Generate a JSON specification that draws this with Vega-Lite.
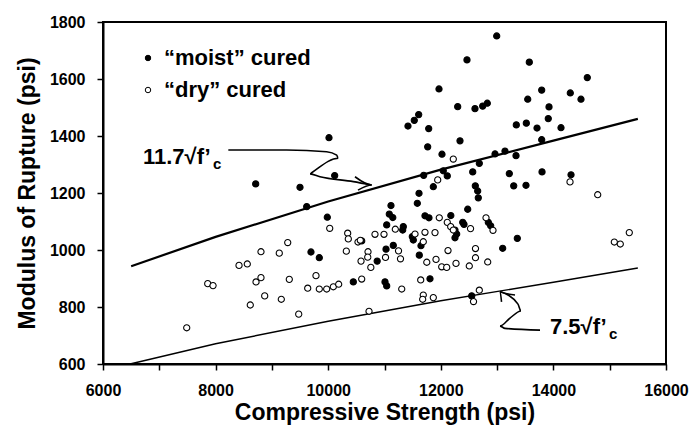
{
  "$schema": "https://vega.github.io/schema/vega-lite/v6.json",
  "width": 563,
  "height": 342,
  "autosize": {"type": "none"},
  "padding": {"left": 103, "top": 22, "right": 26, "bottom": 67},
  "background": "white",
  "config": {
    "view": {"stroke": "black", "strokeWidth": 2},
    "font": "Liberation Sans",
    "axis": {
      "domainColor": "black", "domainWidth": 2,
      "tickColor": "black", "tickWidth": 1.5, "tickSize": 6,
      "labelFont": "Liberation Sans", "labelFontSize": 16, "labelFontWeight": "bold", "labelColor": "black",
      "titleFont": "Liberation Sans", "titleFontSize": 23, "titleFontWeight": "bold", "titleColor": "black",
      "grid": false, "labelOverlap": false, "labelFlush": false
    }
  },
  "datasets": {
    "pts": [
      {"fc": 12993, "mor": 1751, "cure": "“moist” cured"},
      {"fc": 12465, "mor": 1667, "cure": "“moist” cured"},
      {"fc": 13572, "mor": 1659, "cure": "“moist” cured"},
      {"fc": 14602, "mor": 1605, "cure": "“moist” cured"},
      {"fc": 11968, "mor": 1565, "cure": "“moist” cured"},
      {"fc": 13792, "mor": 1561, "cure": "“moist” cured"},
      {"fc": 14300, "mor": 1551, "cure": "“moist” cured"},
      {"fc": 13544, "mor": 1529, "cure": "“moist” cured"},
      {"fc": 14490, "mor": 1529, "cure": "“moist” cured"},
      {"fc": 12300, "mor": 1503, "cure": "“moist” cured"},
      {"fc": 12607, "mor": 1496, "cure": "“moist” cured"},
      {"fc": 12744, "mor": 1505, "cure": "“moist” cured"},
      {"fc": 12826, "mor": 1515, "cure": "“moist” cured"},
      {"fc": 13922, "mor": 1502, "cure": "“moist” cured"},
      {"fc": 11607, "mor": 1475, "cure": "“moist” cured"},
      {"fc": 11529, "mor": 1455, "cure": "“moist” cured"},
      {"fc": 11417, "mor": 1435, "cure": "“moist” cured"},
      {"fc": 13909, "mor": 1461, "cure": "“moist” cured"},
      {"fc": 11785, "mor": 1426, "cure": "“moist” cured"},
      {"fc": 13341, "mor": 1439, "cure": "“moist” cured"},
      {"fc": 13519, "mor": 1445, "cure": "“moist” cured"},
      {"fc": 13709, "mor": 1428, "cure": "“moist” cured"},
      {"fc": 14135, "mor": 1429, "cure": "“moist” cured"},
      {"fc": 12341, "mor": 1383, "cure": "“moist” cured"},
      {"fc": 13792, "mor": 1387, "cure": "“moist” cured"},
      {"fc": 11767, "mor": 1362, "cure": "“moist” cured"},
      {"fc": 12021, "mor": 1336, "cure": "“moist” cured"},
      {"fc": 12963, "mor": 1337, "cure": "“moist” cured"},
      {"fc": 13140, "mor": 1347, "cure": "“moist” cured"},
      {"fc": 13336, "mor": 1331, "cure": "“moist” cured"},
      {"fc": 12684, "mor": 1304, "cure": "“moist” cured"},
      {"fc": 12044, "mor": 1278, "cure": "“moist” cured"},
      {"fc": 11696, "mor": 1262, "cure": "“moist” cured"},
      {"fc": 12115, "mor": 1260, "cure": "“moist” cured"},
      {"fc": 12567, "mor": 1274, "cure": "“moist” cured"},
      {"fc": 13217, "mor": 1268, "cure": "“moist” cured"},
      {"fc": 13798, "mor": 1274, "cure": "“moist” cured"},
      {"fc": 14313, "mor": 1264, "cure": "“moist” cured"},
      {"fc": 11867, "mor": 1222, "cure": "“moist” cured"},
      {"fc": 12613, "mor": 1225, "cure": "“moist” cured"},
      {"fc": 13295, "mor": 1225, "cure": "“moist” cured"},
      {"fc": 13513, "mor": 1227, "cure": "“moist” cured"},
      {"fc": 10014, "mor": 1394, "cure": "“moist” cured"},
      {"fc": 10115, "mor": 1261, "cure": "“moist” cured"},
      {"fc": 8712, "mor": 1232, "cure": "“moist” cured"},
      {"fc": 9499, "mor": 1220, "cure": "“moist” cured"},
      {"fc": 9618, "mor": 1152, "cure": "“moist” cured"},
      {"fc": 11115, "mor": 1156, "cure": "“moist” cured"},
      {"fc": 11085, "mor": 1126, "cure": "“moist” cured"},
      {"fc": 9984, "mor": 1115, "cure": "“moist” cured"},
      {"fc": 11147, "mor": 1114, "cure": "“moist” cured"},
      {"fc": 11039, "mor": 1088, "cure": "“moist” cured"},
      {"fc": 9694, "mor": 993, "cure": "“moist” cured"},
      {"fc": 9842, "mor": 973, "cure": "“moist” cured"},
      {"fc": 10870, "mor": 961, "cure": "“moist” cured"},
      {"fc": 11156, "mor": 1016, "cure": "“moist” cured"},
      {"fc": 10446, "mor": 888, "cure": "“moist” cured"},
      {"fc": 11009, "mor": 888, "cure": "“moist” cured"},
      {"fc": 11039, "mor": 874, "cure": "“moist” cured"},
      {"fc": 11613, "mor": 1199, "cure": "“moist” cured"},
      {"fc": 11583, "mor": 1164, "cure": "“moist” cured"},
      {"fc": 11719, "mor": 1120, "cure": "“moist” cured"},
      {"fc": 11790, "mor": 1113, "cure": "“moist” cured"},
      {"fc": 12178, "mor": 1121, "cure": "“moist” cured"},
      {"fc": 11334, "mor": 1082, "cure": "“moist” cured"},
      {"fc": 11323, "mor": 1070, "cure": "“moist” cured"},
      {"fc": 11512, "mor": 1035, "cure": "“moist” cured"},
      {"fc": 11494, "mor": 1047, "cure": "“moist” cured"},
      {"fc": 12282, "mor": 1056, "cure": "“moist” cured"},
      {"fc": 10595, "mor": 1032, "cure": "“moist” cured"},
      {"fc": 11027, "mor": 1003, "cure": "“moist” cured"},
      {"fc": 11648, "mor": 1015, "cure": "“moist” cured"},
      {"fc": 11618, "mor": 982, "cure": "“moist” cured"},
      {"fc": 11808, "mor": 899, "cure": "“moist” cured"},
      {"fc": 12655, "mor": 1207, "cure": "“moist” cured"},
      {"fc": 12666, "mor": 1183, "cure": "“moist” cured"},
      {"fc": 12478, "mor": 1143, "cure": "“moist” cured"},
      {"fc": 12389, "mor": 1097, "cure": "“moist” cured"},
      {"fc": 12412, "mor": 1090, "cure": "“moist” cured"},
      {"fc": 12844, "mor": 1097, "cure": "“moist” cured"},
      {"fc": 12886, "mor": 1085, "cure": "“moist” cured"},
      {"fc": 12252, "mor": 1070, "cure": "“moist” cured"},
      {"fc": 12252, "mor": 1043, "cure": "“moist” cured"},
      {"fc": 13359, "mor": 1041, "cure": "“moist” cured"},
      {"fc": 13099, "mor": 1006, "cure": "“moist” cured"},
      {"fc": 12549, "mor": 839, "cure": "“moist” cured"},
      {"fc": 12222, "mor": 1319, "cure": "“dry” cured"},
      {"fc": 11945, "mor": 1246, "cure": "“dry” cured"},
      {"fc": 14295, "mor": 1239, "cure": "“dry” cured"},
      {"fc": 10027, "mor": 1076, "cure": "“dry” cured"},
      {"fc": 10346, "mor": 1059, "cure": "“dry” cured"},
      {"fc": 10357, "mor": 1039, "cure": "“dry” cured"},
      {"fc": 10529, "mor": 1028, "cure": "“dry” cured"},
      {"fc": 10570, "mor": 1034, "cure": "“dry” cured"},
      {"fc": 10831, "mor": 1055, "cure": "“dry” cured"},
      {"fc": 10991, "mor": 1055, "cure": "“dry” cured"},
      {"fc": 11192, "mor": 1073, "cure": "“dry” cured"},
      {"fc": 9281, "mor": 1026, "cure": "“dry” cured"},
      {"fc": 8806, "mor": 994, "cure": "“dry” cured"},
      {"fc": 9131, "mor": 989, "cure": "“dry” cured"},
      {"fc": 10322, "mor": 996, "cure": "“dry” cured"},
      {"fc": 10707, "mor": 994, "cure": "“dry” cured"},
      {"fc": 11249, "mor": 997, "cure": "“dry” cured"},
      {"fc": 8416, "mor": 946, "cure": "“dry” cured"},
      {"fc": 8563, "mor": 951, "cure": "“dry” cured"},
      {"fc": 10583, "mor": 961, "cure": "“dry” cured"},
      {"fc": 10702, "mor": 975, "cure": "“dry” cured"},
      {"fc": 11018, "mor": 974, "cure": "“dry” cured"},
      {"fc": 10757, "mor": 939, "cure": "“dry” cured"},
      {"fc": 7860, "mor": 882, "cure": "“dry” cured"},
      {"fc": 7954, "mor": 875, "cure": "“dry” cured"},
      {"fc": 8718, "mor": 888, "cure": "“dry” cured"},
      {"fc": 8806, "mor": 903, "cure": "“dry” cured"},
      {"fc": 9309, "mor": 897, "cure": "“dry” cured"},
      {"fc": 9783, "mor": 910, "cure": "“dry” cured"},
      {"fc": 10595, "mor": 898, "cure": "“dry” cured"},
      {"fc": 9636, "mor": 866, "cure": "“dry” cured"},
      {"fc": 9842, "mor": 863, "cure": "“dry” cured"},
      {"fc": 9973, "mor": 863, "cure": "“dry” cured"},
      {"fc": 10091, "mor": 871, "cure": "“dry” cured"},
      {"fc": 10186, "mor": 880, "cure": "“dry” cured"},
      {"fc": 8872, "mor": 839, "cure": "“dry” cured"},
      {"fc": 9167, "mor": 827, "cure": "“dry” cured"},
      {"fc": 8616, "mor": 807, "cure": "“dry” cured"},
      {"fc": 9476, "mor": 775, "cure": "“dry” cured"},
      {"fc": 10725, "mor": 785, "cure": "“dry” cured"},
      {"fc": 7487, "mor": 727, "cure": "“dry” cured"},
      {"fc": 14787, "mor": 1194, "cure": "“dry” cured"},
      {"fc": 15348, "mor": 1061, "cure": "“dry” cured"},
      {"fc": 15082, "mor": 1028, "cure": "“dry” cured"},
      {"fc": 15188, "mor": 1021, "cure": "“dry” cured"},
      {"fc": 11973, "mor": 1113, "cure": "“dry” cured"},
      {"fc": 12803, "mor": 1113, "cure": "“dry” cured"},
      {"fc": 12927, "mor": 1069, "cure": "“dry” cured"},
      {"fc": 12528, "mor": 1075, "cure": "“dry” cured"},
      {"fc": 11542, "mor": 1056, "cure": "“dry” cured"},
      {"fc": 11719, "mor": 1062, "cure": "“dry” cured"},
      {"fc": 11897, "mor": 1061, "cure": "“dry” cured"},
      {"fc": 11689, "mor": 1029, "cure": "“dry” cured"},
      {"fc": 12128, "mor": 998, "cure": "“dry” cured"},
      {"fc": 12616, "mor": 1005, "cure": "“dry” cured"},
      {"fc": 11284, "mor": 969, "cure": "“dry” cured"},
      {"fc": 11751, "mor": 957, "cure": "“dry” cured"},
      {"fc": 11915, "mor": 967, "cure": "“dry” cured"},
      {"fc": 12016, "mor": 941, "cure": "“dry” cured"},
      {"fc": 12105, "mor": 939, "cure": "“dry” cured"},
      {"fc": 12270, "mor": 953, "cure": "“dry” cured"},
      {"fc": 12506, "mor": 944, "cure": "“dry” cured"},
      {"fc": 12616, "mor": 973, "cure": "“dry” cured"},
      {"fc": 12833, "mor": 958, "cure": "“dry” cured"},
      {"fc": 11643, "mor": 895, "cure": "“dry” cured"},
      {"fc": 11306, "mor": 863, "cure": "“dry” cured"},
      {"fc": 11689, "mor": 842, "cure": "“dry” cured"},
      {"fc": 11678, "mor": 827, "cure": "“dry” cured"},
      {"fc": 11867, "mor": 833, "cure": "“dry” cured"},
      {"fc": 12684, "mor": 859, "cure": "“dry” cured"},
      {"fc": 12581, "mor": 819, "cure": "“dry” cured"},
      {"fc": 12115, "mor": 1097, "cure": "“dry” cured"},
      {"fc": 12176, "mor": 1082, "cure": "“dry” cured"},
      {"fc": 12222, "mor": 1070, "cure": "“dry” cured"}
    ],
    "fits": [
      {"fc": 6500, "mor": 943, "eq": "upper"},
      {"fc": 8000, "mor": 1046, "eq": "upper"},
      {"fc": 10000, "mor": 1170, "eq": "upper"},
      {"fc": 12000, "mor": 1282, "eq": "upper"},
      {"fc": 14000, "mor": 1384, "eq": "upper"},
      {"fc": 15500, "mor": 1460, "eq": "upper"},
      {"fc": 6480, "mor": 600, "eq": "lower"},
      {"fc": 8000, "mor": 671, "eq": "lower"},
      {"fc": 10000, "mor": 750, "eq": "lower"},
      {"fc": 12000, "mor": 822, "eq": "lower"},
      {"fc": 14000, "mor": 887, "eq": "lower"},
      {"fc": 15500, "mor": 937, "eq": "lower"}
    ],
    "arrows": [
      {"fc": 8226, "mor": 1351, "seg": "a1", "o": 1},
      {"fc": 9263, "mor": 1351, "seg": "a1", "o": 2},
      {"fc": 9973, "mor": 1345, "seg": "a1", "o": 3},
      {"fc": 10151, "mor": 1333, "seg": "a1", "o": 4},
      {"fc": 10179, "mor": 1322, "seg": "a1", "o": 5},
      {"fc": 9707, "mor": 1271, "seg": "a1", "o": 6},
      {"fc": 9677, "mor": 1267, "seg": "a1", "o": 7},
      {"fc": 9854, "mor": 1257, "seg": "a1", "o": 8},
      {"fc": 10446, "mor": 1240, "seg": "a1", "o": 9},
      {"fc": 10773, "mor": 1228, "seg": "a1", "o": 10},
      {"fc": 10476, "mor": 1257, "seg": "h1", "o": 1},
      {"fc": 10773, "mor": 1228, "seg": "h1", "o": 2},
      {"fc": 10529, "mor": 1210, "seg": "h1", "o": 3},
      {"fc": 13762, "mor": 719, "seg": "a2", "o": 1},
      {"fc": 13140, "mor": 725, "seg": "a2", "o": 2},
      {"fc": 13051, "mor": 733, "seg": "a2", "o": 3},
      {"fc": 13229, "mor": 761, "seg": "a2", "o": 4},
      {"fc": 13424, "mor": 786, "seg": "a2", "o": 5},
      {"fc": 13371, "mor": 810, "seg": "a2", "o": 6},
      {"fc": 13051, "mor": 854, "seg": "a2", "o": 7},
      {"fc": 13318, "mor": 842, "seg": "h2", "o": 1},
      {"fc": 13051, "mor": 854, "seg": "h2", "o": 2},
      {"fc": 13079, "mor": 818, "seg": "h2", "o": 3}
    ],
    "notes": [
      {"fc": 6710, "mor": 1302, "t": "11.7√f’", "part": "main"},
      {"fc": 7954, "mor": 1284, "t": "c", "part": "sub"},
      {"fc": 13940, "mor": 705, "t": "7.5√f’", "part": "main"},
      {"fc": 14988, "mor": 688, "t": "c", "part": "sub"}
    ]
  },
  "layer": [
    {
      "data": {"name": "fits"},
      "transform": [{"filter": "datum.eq === 'upper'"}],
      "mark": {"type": "line", "color": "black", "strokeWidth": 2.2},
      "encoding": {
        "x": {"field": "fc", "type": "quantitative", "scale": {"domain": [6000, 16000], "nice": false, "zero": false},
          "axis": {"title": "Compressive Strength (psi)", "values": [6000, 7000, 8000, 9000, 10000, 11000, 12000, 13000, 14000, 15000, 16000], "format": "d", "labelExpr": "datum.value % 2000 === 0 ? datum.label : ''", "labelPadding": 12, "titlePadding": 3}},
        "y": {"field": "mor", "type": "quantitative", "scale": {"domain": [600, 1800], "nice": false, "zero": false},
          "axis": {"title": "Modulus of Rupture (psi)", "values": [600, 700, 800, 900, 1000, 1100, 1200, 1300, 1400, 1500, 1600, 1700, 1800], "format": "d", "labelExpr": "datum.value % 200 === 0 ? datum.label : ''", "labelPadding": 12, "titlePadding": 10}}
      }
    },
    {
      "data": {"name": "fits"},
      "transform": [{"filter": "datum.eq === 'lower'"}],
      "mark": {"type": "line", "color": "black", "strokeWidth": 1.4},
      "encoding": {
        "x": {"field": "fc", "type": "quantitative"},
        "y": {"field": "mor", "type": "quantitative"}
      }
    },
    {
      "data": {"name": "arrows"},
      "mark": {"type": "line", "color": "black", "strokeWidth": 1.6, "interpolate": "monotone"},
      "encoding": {
        "x": {"field": "fc", "type": "quantitative"},
        "y": {"field": "mor", "type": "quantitative"},
        "detail": {"field": "seg"},
        "order": {"field": "o", "type": "quantitative"}
      }
    },
    {
      "data": {"name": "pts"},
      "mark": {"type": "point", "shape": "circle", "size": 38, "stroke": "black", "strokeWidth": 1.1, "opacity": 1, "filled": false},
      "encoding": {
        "x": {"field": "fc", "type": "quantitative"},
        "y": {"field": "mor", "type": "quantitative"},
        "fill": {"field": "cure", "type": "nominal",
          "scale": {"domain": ["“moist” cured", "“dry” cured"], "range": ["black", "white"]},
          "legend": {"orient": "none", "legendX": 34, "legendY": 25, "title": null, "padding": 0,
            "labelFont": "Liberation Sans", "labelFontSize": 22, "labelFontWeight": "bold", "labelColor": "black",
            "symbolType": "circle", "symbolSize": 30, "symbolStrokeColor": "black", "symbolStrokeWidth": 1,
            "rowPadding": 10, "labelOffset": 5, "labelLimit": 400}}
      }
    },
    {
      "data": {"name": "notes"},
      "transform": [{"filter": "datum.part === 'main'"}],
      "mark": {"type": "text", "align": "left", "baseline": "alphabetic", "font": "Liberation Sans", "fontSize": 22, "fontWeight": "bold", "color": "black"},
      "encoding": {
        "x": {"field": "fc", "type": "quantitative"},
        "y": {"field": "mor", "type": "quantitative"},
        "text": {"field": "t"}
      }
    },
    {
      "data": {"name": "notes"},
      "transform": [{"filter": "datum.part === 'sub'"}],
      "mark": {"type": "text", "align": "left", "baseline": "alphabetic", "font": "Liberation Sans", "fontSize": 15, "fontWeight": "bold", "color": "black"},
      "encoding": {
        "x": {"field": "fc", "type": "quantitative"},
        "y": {"field": "mor", "type": "quantitative"},
        "text": {"field": "t"}
      }
    }
  ]
}
